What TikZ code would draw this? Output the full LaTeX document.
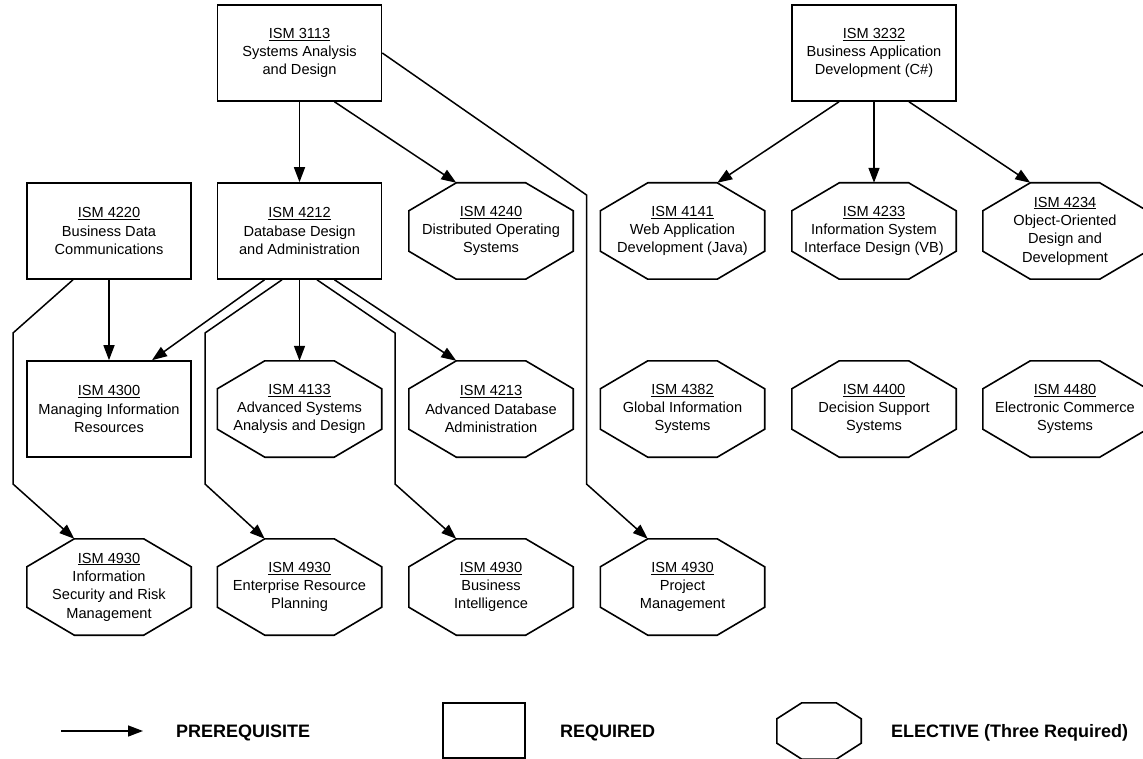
\documentclass[tikz,border=0pt]{standalone}
\usepackage{fontspec}
\setmainfont{Liberation Sans}
\usetikzlibrary{arrows.meta,calc}
\tikzset{
  course/.style={rectangle, minimum width=164pt, minimum height=96pt, inner sep=0pt,
    align=center, font=\fontsize{14.6}{18.3}\selectfont, text=black},
  reqbox/.style={course, draw, line width=1.6pt},
  elecbox/.style={course},
  octline/.style={line width=1.6pt, line join=miter},
  arr/.style={line width=1.5pt, -{Triangle[length=15pt,width=11pt]}},
  legendtext/.style={anchor=base west, font=\fontsize{18}{22}\selectfont\bfseries, inner sep=0pt},
}
\newcommand\drawoct[3]{\draw[octline] ($(#1.north west)+(#2,0)$) -- ($(#1.north east)+(-#2,0)$) -- ($(#1.north east)+(0,#3)$) -- ($(#1.south east)+(0,-#3)$) -- ($(#1.south east)+(-#2,0)$) -- ($(#1.south west)+(#2,0)$) -- ($(#1.south west)+(0,-#3)$) -- ($(#1.north west)+(0,#3)$) -- cycle;}
\begin{document}
\begin{tikzpicture}[x=1pt,y=-1pt]
\fill[white] (0,0) rectangle (1143,759);
\useasboundingbox (0,0) rectangle (1143,759);

% row 1
\node[reqbox] (r3113) at (299.5,53) {\underline{ISM 3113}\\Systems Analysis\\and Design};
\node[reqbox] (r3232) at (874,53) {\underline{ISM 3232}\\Business Application\\Development (C\#)};
% row 2
\node[reqbox] (r4220) at (109,231) {\underline{ISM 4220}\\Business Data\\Communications};
\node[reqbox] (r4212) at (299.5,231) {\underline{ISM 4212}\\Database Design\\and Administration};
\node[elecbox] (e4240) at (491,231) {\underline{ISM 4240}\\Distributed Operating\\Systems};
\node[elecbox] (e4141) at (682.5,231) {\underline{ISM 4141}\\Web Application\\Development (Java)};
\node[elecbox] (e4233) at (874,231) {\underline{ISM 4233}\\Information System\\Interface Design (VB)};
\node[elecbox] (e4234) at (1065,231) {\underline{ISM 4234}\\Object-Oriented\\Design and\\Development};
% row 3
\node[reqbox] (r4300) at (109,409) {\underline{ISM 4300}\\Managing Information\\Resources};
\node[elecbox] (e4133) at (299.5,409) {\underline{ISM 4133}\\Advanced Systems\\Analysis and Design};
\node[elecbox] (e4213) at (491,409) {\underline{ISM 4213}\\Advanced Database\\Administration};
\node[elecbox] (e4382) at (682.5,409) {\underline{ISM 4382}\\Global Information\\Systems};
\node[elecbox] (e4400) at (874,409) {\underline{ISM 4400}\\Decision Support\\Systems};
\node[elecbox] (e4480) at (1065,409) {\underline{ISM 4480}\\Electronic Commerce\\Systems};
% row 4
\node[elecbox] (e4930a) at (109,587) {\underline{ISM 4930}\\Information\\Security and Risk\\Management};
\node[elecbox] (e4930b) at (299.5,587) {\underline{ISM 4930}\\Enterprise Resource\\Planning};
\node[elecbox] (e4930c) at (491,587) {\underline{ISM 4930}\\Business\\Intelligence};
\node[elecbox] (e4930d) at (682.5,587) {\underline{ISM 4930}\\Project\\Management};

\foreach \n in {e4240,e4141,e4233,e4234,e4133,e4213,e4382,e4400,e4480,e4930a,e4930b,e4930c,e4930d}{\drawoct{\n}{47.5}{28}}

% connectors from ISM 3113
\draw[arr] (r3113.south) -- (r4212.north);
\draw[arr] ($(r3113.south)+(35,0)$) -- ($(e4240.north west)+(47.5,0)$);
\draw[arr] (r3113.east) -- (586.5,195) -- (586.5,484) -- ($(e4930d.north west)+(47.5,0)$);
% from ISM 3232
\draw[arr] ($(r3232.south)+(-35,0)$) -- ($(e4141.north east)+(-47.5,0)$);
\draw[arr] (r3232.south) -- (e4233.north);
\draw[arr] ($(r3232.south)+(35,0)$) -- ($(e4234.north west)+(47.5,0)$);
% from ISM 4220
\draw[arr] (r4220.south) -- (r4300.north);
\draw[arr] ($(r4220.south)+(-36,0)$) -- (13,333) -- (13,484) -- ($(e4930a.north west)+(47.5,0)$);
% from ISM 4212
\draw[arr] ($(r4212.south)+(-35,0)$) -- ($(r4300.north)+(43,0)$);
\draw[arr] ($(r4212.south)+(-17.5,0)$) -- (205,333) -- (205,484) -- ($(e4930b.north west)+(47.5,0)$);
\draw[arr] (r4212.south) -- (e4133.north);
\draw[arr] ($(r4212.south)+(17.5,0)$) -- (395,333) -- (395,484) -- ($(e4930c.north west)+(47.5,0)$);
\draw[arr] ($(r4212.south)+(35,0)$) -- ($(e4213.north west)+(47.5,0)$);

% legend
\coordinate (la) at (61,731);
\coordinate (lb) at (143,731);
\draw[arr] (la) -- (lb);
\node[legendtext] (tpre) at (176,737) {PREREQUISITE};
\node[draw, line width=1.6pt, minimum width=82pt, minimum height=55pt, inner sep=0pt] (lreq) at (484,730.5) {};
\node[legendtext] (treq) at (560,737) {REQUIRED};
\node[minimum width=84pt, minimum height=56pt, inner sep=0pt] (lel) at (819,731) {};
\drawoct{lel}{25}{16}
\node[legendtext] (tel) at (891,737) {ELECTIVE (Three Required)};
\end{tikzpicture}
\end{document}
